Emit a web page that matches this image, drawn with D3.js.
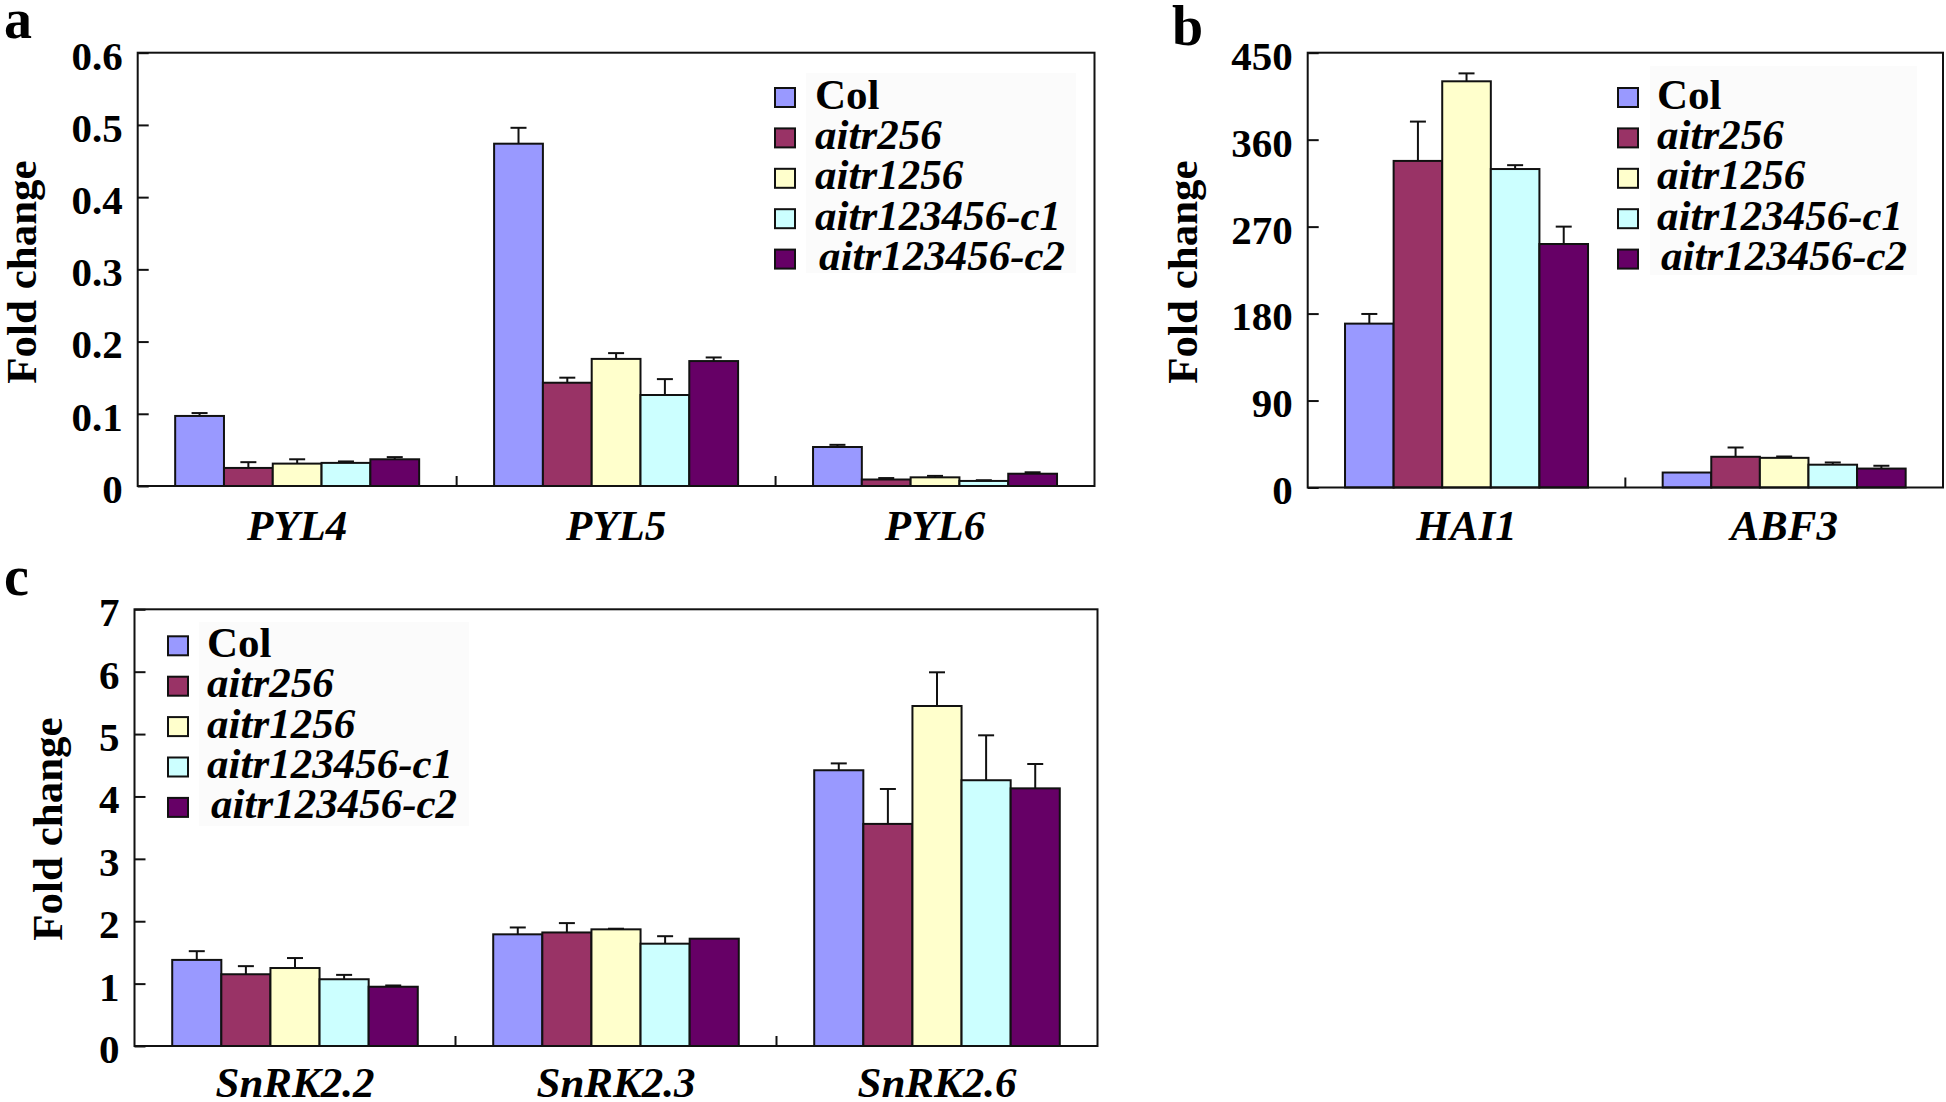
<!DOCTYPE html>
<html><head><meta charset="utf-8">
<script src="https://cdn.jsdelivr.net/npm/d3@7"></script>
<style>
html,body{margin:0;padding:0;background:#fff;}
svg{display:block;}
text{font-family:"Liberation Serif","Times New Roman",Times,serif;font-weight:bold;fill:#000;}
</style></head><body>
<svg id="fig" width="1946" height="1102"></svg>
<script>
// ---------- data ----------
const seriesNames = ["Col", "aitr256", "aitr1256", "aitr123456-c1", "aitr123456-c2"];
const seriesColors = ["#9999FF", "#993366", "#FFFFCC", "#CCFFFF", "#660066"];

// panel a
const genesA = ["PYL4", "PYL5", "PYL6"];
const colA      = [0.097, 0.474, 0.054];
const aitr256A  = [0.025, 0.143, 0.009];
const aitr1256A = [0.031, 0.176, 0.012];
const c1A       = [0.032, 0.126, 0.007];
const c2A       = [0.037, 0.173, 0.017];
const colErrA      = [0.004, 0.022, 0.003];
const aitr256ErrA  = [0.008, 0.007, 0.002];
const aitr1256ErrA = [0.006, 0.008, 0.002];
const c1ErrA       = [0.002, 0.022, 0.001];
const c2ErrA       = [0.003, 0.005, 0.002];
const ticksA = [0, 0.1, 0.2, 0.3, 0.4, 0.5, 0.6];

// panel b
const genesB = ["HAI1", "ABF3"];
const colB      = [169.6, 15.5];
const aitr256B  = [338.0, 31.8];
const aitr1256B = [420.4, 30.7];
const c1B       = [329.6, 23.6];
const c2B       = [252.0, 19.6];
const colErrB      = [10.0, 0];
const aitr256ErrB  = [40.7, 9.6];
const aitr1256ErrB = [8.2, 1.4];
const c1ErrB       = [4.0, 2.3];
const c2ErrB       = [18.0, 2.9];
const ticksB = [0, 90, 180, 270, 360, 450];

// panel c
const genesC = ["SnRK2.2", "SnRK2.3", "SnRK2.6"];
const colC      = [1.38, 1.79, 4.42];
const aitr256C  = [1.15, 1.82, 3.56];
const aitr1256C = [1.25, 1.87, 5.45];
const c1C       = [1.07, 1.64, 4.26];
const c2C       = [0.95, 1.72, 4.13];
const colErrC      = [0.14, 0.11, 0.11];
const aitr256ErrC  = [0.13, 0.15, 0.56];
const aitr1256ErrC = [0.16, 0.01, 0.54];
const c1ErrC       = [0.07, 0.12, 0.72];
const c2ErrC       = [0.02, 0, 0.39];
const ticksC = [0, 1, 2, 3, 4, 5, 6, 7];

const yTitle = "Fold change";

// ---------- drawing ----------
const svg = d3.select("#fig");
svg.append("rect").attr("width", 1946).attr("height", 1102).attr("fill", "#fff");
const FONT = '"Liberation Serif","Times New Roman",Times,serif';

function drawPanel(p) {
  const w = p.right - p.left, h = p.bottom - p.top;
  const g = svg.append("g").attr("transform", `translate(${p.left},${p.top})`);
  const y = d3.scaleLinear().domain([0, d3.max(p.ticks)]).range([h, 0]);
  const x0 = d3.scaleBand().domain(p.genes).range([0, w]).padding(0);
  const x1 = d3.scaleBand().domain(d3.range(seriesNames.length))
    .range([0, x0.bandwidth()]).paddingInner(0).paddingOuter(0.768);

  // faint legend background
  g.append("rect")
    .attr("x", p.legBg[0] - p.left).attr("y", p.legBg[1] - p.top)
    .attr("width", p.legBg[2]).attr("height", p.legBg[3])
    .attr("fill", "#fbfbfb");

  // bars
  p.genes.forEach((gene, gi) => {
    seriesNames.forEach((s, si) => {
      const v = p.means[si][gi];
      const bx = x0(gene) + x1(si), bw = x1.bandwidth();
      g.append("rect")
        .attr("x", bx).attr("y", y(v))
        .attr("width", bw).attr("height", y(0) - y(v))
        .attr("fill", seriesColors[si])
        .attr("stroke", "#111").attr("stroke-width", 2);
    });
  });
  // error bars
  p.genes.forEach((gene, gi) => {
    seriesNames.forEach((s, si) => {
      const v = p.means[si][gi], e = p.errs[si][gi];
      if (!(e > 0)) return;
      const cx = x0(gene) + x1(si) + x1.bandwidth() / 2;
      g.append("line").attr("x1", cx).attr("x2", cx)
        .attr("y1", y(v)).attr("y2", y(v + e))
        .attr("stroke", "#111").attr("stroke-width", 2);
      g.append("line").attr("x1", cx - 8).attr("x2", cx + 8)
        .attr("y1", y(v + e)).attr("y2", y(v + e))
        .attr("stroke", "#111").attr("stroke-width", 2);
    });
  });

  // frame
  g.append("rect").attr("x", 0).attr("y", 0).attr("width", w).attr("height", h)
    .attr("fill", "none").attr("stroke", "#111").attr("stroke-width", 2);

  // y axis (inward ticks)
  const ax = g.append("g")
    .call(d3.axisLeft(y).tickValues(p.ticks).tickFormat(d3.format("~g"))
      .tickSize(-11).tickPadding(15).tickSizeOuter(0));
  ax.select(".domain").remove();
  ax.attr("font-family", FONT).attr("font-size", 41);
  ax.selectAll(".tick line").attr("stroke", "#111").attr("stroke-width", 2);
  ax.selectAll(".tick text").attr("dy", "0.4em").attr("fill", "#000");

  // category divider ticks
  p.genes.slice(1).forEach(gene => {
    g.append("line").attr("x1", x0(gene)).attr("x2", x0(gene))
      .attr("y1", h).attr("y2", h - 10)
      .attr("stroke", "#111").attr("stroke-width", 2);
  });

  // category labels
  p.genes.forEach(gene => {
    g.append("text")
      .attr("x", x0(gene) + x0.bandwidth() / 2)
      .attr("y", p.labelY - p.top)
      .attr("text-anchor", "middle")
      .attr("font-size", 43).attr("font-style", "italic")
      .text(gene);
  });

  // y title
  svg.append("text")
    .attr("transform", `translate(${p.titleX},${p.titleY}) rotate(-90)`)
    .attr("text-anchor", "middle").attr("font-size", 43)
    .text(yTitle);

  // panel letter
  svg.append("text").attr("x", p.letterX).attr("y", p.letterY)
    .attr("font-size", 56).text(p.letter);

  // legend
  seriesNames.forEach((s, i) => {
    const cy = p.legY0 + i * 40.4;
    svg.append("rect")
      .attr("x", p.legX).attr("y", cy - 9.5)
      .attr("width", 20).attr("height", 19)
      .attr("fill", seriesColors[i]).attr("stroke", "#111").attr("stroke-width", 2);
    svg.append("text")
      .attr("x", p.legTextX + (i === seriesNames.length - 1 ? 4 : 0))
      .attr("y", cy + 11)
      .attr("font-size", 43)
      .attr("font-style", i === 0 ? "normal" : "italic")
      .text(s);
  });
}

drawPanel({
  letter: "a", letterX: 4, letterY: 38,
  left: 137.7, right: 1094.5, top: 52.7, bottom: 486,
  genes: genesA,
  means: [colA, aitr256A, aitr1256A, c1A, c2A],
  errs: [colErrA, aitr256ErrA, aitr1256ErrA, c1ErrA, c2ErrA],
  ticks: ticksA,
  labelY: 540, titleX: 36, titleY: 272,
  legX: 775, legY0: 97.5, legTextX: 815,
  legBg: [806, 73, 270, 200]
});

drawPanel({
  letter: "b", letterX: 1172, letterY: 45,
  left: 1307.7, right: 1943, top: 52.7, bottom: 487.5,
  genes: genesB,
  means: [colB, aitr256B, aitr1256B, c1B, c2B],
  errs: [colErrB, aitr256ErrB, aitr1256ErrB, c1ErrB, c2ErrB],
  ticks: ticksB,
  labelY: 540, titleX: 1197, titleY: 272,
  legX: 1618, legY0: 97.5, legTextX: 1657,
  legBg: [1650, 66, 267, 209]
});

drawPanel({
  letter: "c", letterX: 4, letterY: 595,
  left: 134.5, right: 1097.5, top: 609.3, bottom: 1046,
  genes: genesC,
  means: [colC, aitr256C, aitr1256C, c1C, c2C],
  errs: [colErrC, aitr256ErrC, aitr1256ErrC, c1ErrC, c2ErrC],
  ticks: ticksC,
  labelY: 1097, titleX: 62, titleY: 829,
  legX: 168, legY0: 645.8, legTextX: 207,
  legBg: [199, 622, 270, 204]
});
</script>
</body></html>
